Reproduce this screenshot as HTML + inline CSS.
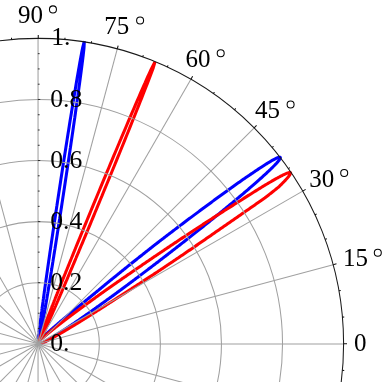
<!DOCTYPE html>
<html><head><meta charset="utf-8"><title>Polar plot</title>
<style>
html,body{margin:0;padding:0;background:#fff;}
body{width:382px;height:382px;overflow:hidden;}
svg{display:block;will-change:transform;}
text{font-family:"Liberation Serif",serif;font-size:25px;fill:#000;white-space:pre;}
</style></head><body>
<svg width="382" height="382" viewBox="0 0 382 382">
<rect width="382" height="382" fill="#fff"/>
<path d="M40.29,343.75 L40.31,343.74 L40.34,343.73 L40.37,343.72 L40.40,343.71 L40.43,343.70 L40.46,343.69 L40.49,343.68 L40.52,343.67 L40.55,343.66 L40.58,343.65 L40.61,343.64 L40.65,343.62 L40.68,343.61 L40.71,343.60 L40.75,343.59 L40.79,343.57 L40.82,343.56 L40.86,343.54 L40.90,343.53 L40.94,343.51 L40.98,343.50 L41.02,343.48 L41.06,343.47 L41.10,343.45 L41.15,343.43 L41.19,343.41 L41.24,343.40 L41.28,343.38 L41.33,343.36 L41.38,343.34 L41.43,343.32 L41.48,343.30 L41.53,343.27 L41.59,343.25 L41.64,343.23 L41.70,343.20 L41.76,343.18 L41.81,343.15 L41.87,343.13 L41.94,343.10 L42.00,343.07 L42.07,343.04 L42.13,343.01 L42.20,342.98 L42.27,342.95 L42.34,342.92 L42.42,342.88 L42.49,342.85 L42.57,342.81 L42.65,342.77 L42.74,342.73 L42.82,342.69 L42.91,342.65 L42.93,342.64 L42.95,342.64 L42.96,342.63 L42.98,342.62 L43.00,342.61 L43.02,342.60 L43.04,342.59 L43.05,342.58 L43.07,342.57 L43.09,342.56 L43.11,342.56 L43.13,342.55 L43.15,342.54 L43.17,342.53 L43.19,342.52 L43.21,342.51 L43.23,342.50 L43.25,342.49 L43.27,342.48 L43.29,342.47 L43.31,342.46 L43.33,342.45 L43.35,342.44 L43.37,342.43 L43.39,342.42 L43.41,342.41 L43.43,342.40 L43.45,342.39 L43.47,342.38 L43.49,342.37 L43.51,342.36 L43.54,342.35 L43.56,342.34 L43.58,342.33 L43.60,342.32 L43.62,342.31 L43.64,342.29 L43.67,342.28 L43.69,342.27 L43.71,342.26 L43.73,342.25 L43.76,342.24 L43.78,342.23 L43.80,342.22 L43.83,342.20 L43.85,342.19 L43.87,342.18 L43.90,342.17 L43.92,342.16 L43.94,342.14 L43.97,342.13 L43.99,342.12 L44.02,342.11 L44.04,342.09 L44.07,342.08 L44.09,342.07 L44.12,342.06 L44.14,342.04 L44.17,342.03 L44.19,342.02 L44.22,342.00 L44.25,341.99 L44.27,341.98 L44.30,341.96 L44.32,341.95 L44.35,341.94 L44.38,341.92 L44.40,341.91 L44.43,341.90 L44.46,341.88 L44.49,341.87 L44.51,341.85 L44.54,341.84 L44.57,341.82 L44.60,341.81 L44.63,341.79 L44.66,341.78 L44.68,341.76 L44.71,341.75 L44.74,341.73 L44.77,341.72 L44.80,341.70 L44.83,341.69 L44.86,341.67 L44.89,341.66 L44.92,341.64 L44.95,341.62 L44.98,341.61 L45.01,341.59 L45.05,341.57 L45.08,341.56 L45.11,341.54 L45.14,341.52 L45.17,341.51 L45.21,341.49 L45.24,341.47 L45.27,341.45 L45.30,341.44 L45.34,341.42 L45.37,341.40 L45.41,341.38 L45.44,341.37 L45.47,341.35 L45.51,341.33 L45.54,341.31 L45.58,341.29 L45.61,341.27 L45.65,341.25 L45.69,341.23 L45.72,341.21 L45.76,341.19 L45.80,341.17 L45.83,341.15 L45.87,341.13 L45.91,341.11 L45.94,341.09 L45.98,341.07 L46.02,341.05 L46.06,341.03 L46.10,341.01 L46.14,340.99 L46.18,340.97 L46.22,340.94 L46.26,340.92 L46.30,340.90 L46.34,340.88 L46.38,340.85 L46.42,340.83 L46.46,340.81 L46.51,340.79 L46.55,340.76 L46.59,340.74 L46.63,340.71 L46.68,340.69 L46.72,340.67 L46.77,340.64 L46.81,340.62 L46.85,340.59 L46.90,340.57 L46.95,340.54 L46.99,340.52 L47.04,340.49 L47.08,340.46 L47.13,340.44 L47.18,340.41 L47.23,340.38 L47.27,340.36 L47.32,340.33 L47.37,340.30 L47.42,340.28 L47.47,340.25 L47.52,340.22 L47.57,340.19 L47.62,340.16 L47.67,340.13 L47.73,340.10 L47.78,340.07 L47.83,340.04 L47.88,340.01 L47.94,339.98 L47.99,339.95 L48.05,339.92 L48.10,339.89 L48.16,339.86 L48.21,339.83 L48.27,339.79 L48.33,339.76 L48.38,339.73 L48.44,339.69 L48.50,339.66 L48.56,339.63 L48.62,339.59 L48.68,339.56 L48.74,339.52 L48.80,339.49 L48.86,339.45 L48.92,339.42 L48.99,339.38 L49.05,339.34 L49.11,339.31 L49.18,339.27 L49.24,339.23 L49.31,339.19 L49.38,339.15 L49.44,339.11 L49.51,339.07 L49.58,339.03 L49.65,338.99 L49.72,338.95 L49.79,338.91 L49.86,338.87 L49.93,338.83 L50.00,338.79 L50.07,338.74 L50.14,338.70 L50.22,338.66 L50.29,338.61 L50.37,338.57 L50.44,338.52 L50.52,338.48 L50.60,338.43 L50.68,338.38 L50.76,338.34 L50.84,338.29 L50.92,338.24 L51.00,338.19 L51.08,338.14 L51.16,338.09 L51.25,338.04 L51.33,337.99 L51.42,337.94 L51.50,337.89 L51.59,337.84 L51.68,337.78 L51.77,337.73 L51.86,337.68 L51.95,337.62 L52.04,337.57 L52.13,337.51 L52.23,337.45 L52.32,337.40 L52.42,337.34 L52.51,337.28 L52.61,337.22 L52.71,337.16 L52.81,337.10 L52.91,337.04 L53.01,336.98 L53.11,336.91 L53.22,336.85 L53.32,336.79 L53.43,336.72 L53.53,336.65 L53.64,336.59 L53.75,336.52 L53.86,336.45 L53.97,336.38 L54.09,336.31 L54.20,336.24 L54.32,336.17 L54.43,336.10 L54.55,336.03 L54.67,335.95 L54.79,335.88 L54.91,335.80 L55.03,335.72 L55.16,335.65 L55.29,335.57 L55.41,335.49 L55.54,335.41 L55.67,335.33 L55.80,335.24 L55.94,335.16 L56.07,335.08 L56.21,334.99 L56.35,334.90 L56.49,334.81 L56.63,334.73 L56.77,334.64 L56.92,334.54 L57.06,334.45 L57.21,334.36 L57.36,334.26 L57.51,334.17 L57.66,334.07 L57.82,333.97 L57.98,333.87 L58.14,333.77 L58.30,333.67 L58.46,333.56 L58.63,333.46 L58.79,333.35 L58.96,333.24 L59.13,333.13 L59.31,333.02 L59.48,332.91 L59.66,332.79 L59.84,332.68 L60.02,332.56 L60.21,332.44 L60.39,332.32 L60.58,332.20 L60.77,332.07 L60.97,331.95 L61.16,331.82 L61.36,331.69 L61.56,331.56 L61.77,331.43 L61.98,331.29 L62.19,331.15 L62.40,331.02 L62.61,330.88 L62.83,330.73 L63.05,330.59 L63.28,330.44 L63.50,330.29 L63.73,330.14 L63.97,329.99 L64.20,329.83 L64.44,329.67 L64.69,329.51 L64.93,329.35 L65.18,329.18 L65.28,329.12 L65.39,329.05 L65.49,328.98 L65.59,328.91 L65.69,328.85 L65.80,328.78 L65.90,328.71 L66.01,328.64 L66.11,328.57 L66.22,328.50 L66.32,328.43 L66.43,328.36 L66.54,328.28 L66.65,328.21 L66.76,328.14 L66.87,328.07 L66.98,327.99 L67.09,327.92 L67.20,327.84 L67.31,327.77 L67.43,327.69 L67.54,327.62 L67.65,327.54 L67.77,327.46 L67.88,327.39 L68.00,327.31 L68.12,327.23 L68.23,327.15 L68.35,327.07 L68.47,326.99 L68.59,326.91 L68.71,326.83 L68.83,326.75 L68.95,326.67 L69.08,326.59 L69.20,326.50 L69.32,326.42 L69.45,326.34 L69.57,326.25 L69.70,326.17 L69.83,326.08 L69.96,326.00 L70.08,325.91 L70.21,325.82 L70.34,325.74 L70.47,325.65 L70.60,325.56 L70.74,325.47 L70.87,325.38 L71.00,325.29 L71.14,325.20 L71.27,325.11 L71.41,325.01 L71.55,324.92 L71.69,324.83 L71.82,324.73 L71.96,324.64 L72.10,324.54 L72.25,324.45 L72.39,324.35 L72.53,324.25 L72.68,324.16 L72.82,324.06 L72.97,323.96 L73.11,323.86 L73.26,323.76 L73.41,323.66 L73.56,323.56 L73.71,323.45 L73.86,323.35 L74.01,323.25 L74.17,323.14 L74.32,323.04 L74.47,322.93 L74.63,322.82 L74.79,322.72 L74.95,322.61 L75.10,322.50 L75.26,322.39 L75.43,322.28 L75.59,322.17 L75.75,322.06 L75.91,321.95 L76.08,321.83 L76.25,321.72 L76.41,321.60 L76.58,321.49 L76.75,321.37 L76.92,321.25 L77.09,321.14 L77.27,321.02 L77.44,320.90 L77.61,320.78 L77.79,320.66 L77.97,320.53 L78.15,320.41 L78.33,320.29 L78.51,320.16 L78.69,320.04 L78.87,319.91 L79.06,319.78 L79.24,319.65 L79.43,319.53 L79.62,319.40 L79.80,319.26 L79.99,319.13 L80.19,319.00 L80.38,318.87 L80.57,318.73 L80.77,318.60 L80.97,318.46 L81.16,318.32 L81.36,318.18 L81.56,318.04 L81.77,317.90 L81.97,317.76 L82.17,317.62 L82.38,317.48 L82.59,317.33 L82.80,317.19 L83.01,317.04 L83.22,316.89 L83.43,316.74 L83.65,316.59 L83.86,316.44 L84.08,316.29 L84.30,316.14 L84.52,315.98 L84.74,315.83 L84.96,315.67 L85.19,315.51 L85.42,315.35 L85.64,315.19 L85.87,315.03 L86.11,314.87 L86.34,314.71 L86.57,314.54 L86.81,314.38 L87.05,314.21 L87.29,314.04 L87.53,313.87 L87.77,313.70 L88.01,313.53 L88.26,313.36 L88.51,313.18 L88.76,313.00 L89.01,312.83 L89.26,312.65 L89.52,312.47 L89.77,312.29 L90.03,312.10 L90.29,311.92 L90.56,311.73 L90.82,311.55 L91.09,311.36 L91.35,311.17 L91.62,310.98 L91.89,310.79 L92.17,310.59 L92.44,310.40 L92.72,310.20 L93.00,310.00 L93.28,309.80 L93.56,309.60 L93.85,309.40 L94.14,309.19 L94.43,308.99 L94.72,308.78 L95.01,308.57 L95.31,308.36 L95.61,308.14 L95.91,307.93 L96.21,307.71 L96.51,307.50 L96.82,307.28 L97.13,307.06 L97.44,306.83 L97.76,306.61 L98.07,306.38 L98.39,306.15 L98.71,305.92 L99.03,305.69 L99.36,305.46 L99.69,305.22 L100.02,304.99 L100.35,304.75 L100.68,304.51 L101.02,304.26 L101.36,304.02 L101.70,303.77 L102.05,303.52 L102.39,303.27 L102.74,303.02 L103.10,302.77 L103.45,302.51 L103.81,302.25 L104.17,301.99 L104.53,301.73 L104.90,301.46 L105.27,301.20 L105.64,300.93 L106.01,300.66 L106.39,300.38 L106.77,300.11 L107.15,299.83 L107.54,299.55 L107.93,299.27 L108.32,298.98 L108.71,298.70 L109.11,298.41 L109.51,298.12 L109.91,297.82 L110.32,297.53 L110.73,297.23 L111.14,296.93 L111.56,296.63 L111.98,296.32 L112.40,296.01 L112.82,295.70 L113.25,295.39 L113.68,295.07 L114.12,294.75 L114.56,294.43 L115.00,294.11 L115.44,293.78 L115.89,293.45 L116.34,293.12 L116.80,292.79 L117.25,292.45 L117.72,292.11 L118.18,291.77 L118.65,291.43 L119.12,291.08 L119.60,290.73 L120.08,290.37 L120.56,290.02 L121.05,289.66 L121.54,289.30 L122.03,288.93 L122.53,288.56 L123.03,288.19 L123.54,287.82 L124.05,287.44 L124.56,287.06 L125.08,286.68 L125.60,286.29 L126.12,285.90 L126.65,285.51 L127.18,285.11 L127.72,284.72 L128.26,284.31 L128.81,283.91 L129.35,283.50 L129.91,283.09 L130.46,282.67 L131.03,282.25 L131.59,281.83 L132.16,281.41 L132.74,280.98 L133.31,280.55 L133.90,280.11 L134.48,279.67 L135.07,279.23 L135.67,278.78 L136.27,278.33 L136.87,277.88 L137.48,277.42 L138.10,276.96 L138.71,276.50 L139.34,276.03 L139.96,275.56 L140.60,275.08 L141.23,274.60 L141.87,274.12 L142.52,273.63 L143.17,273.14 L143.82,272.65 L144.48,272.15 L145.15,271.64 L145.82,271.14 L146.49,270.63 L147.17,270.11 L147.85,269.60 L148.54,269.07 L149.23,268.55 L149.93,268.02 L150.63,267.48 L151.34,266.95 L152.05,266.40 L152.77,265.86 L153.49,265.31 L154.22,264.75 L154.95,264.19 L155.69,263.63 L156.43,263.06 L157.18,262.49 L157.93,261.92 L158.69,261.34 L159.45,260.75 L160.21,260.16 L160.99,259.57 L161.76,258.97 L162.55,258.37 L163.33,257.77 L164.12,257.16 L164.92,256.54 L165.72,255.93 L166.53,255.30 L167.34,254.68 L168.16,254.05 L168.98,253.41 L169.81,252.77 L170.64,252.13 L171.48,251.48 L172.32,250.83 L173.16,250.17 L174.01,249.51 L174.87,248.84 L175.73,248.17 L176.60,247.50 L177.47,246.82 L178.34,246.14 L179.22,245.45 L180.11,244.76 L180.99,244.06 L181.89,243.36 L182.79,242.66 L183.69,241.95 L184.60,241.24 L185.51,240.53 L186.42,239.81 L187.34,239.08 L188.27,238.36 L189.20,237.62 L190.13,236.89 L191.06,236.15 L192.00,235.41 L192.95,234.66 L193.90,233.91 L194.85,233.15 L195.80,232.40 L196.76,231.63 L197.72,230.87 L198.69,230.10 L199.66,229.33 L200.63,228.55 L201.61,227.78 L202.58,226.99 L203.56,226.21 L204.55,225.42 L205.53,224.63 L206.52,223.84 L207.51,223.04 L208.51,222.24 L209.50,221.44 L210.50,220.64 L211.50,219.83 L212.50,219.02 L213.50,218.21 L214.50,217.40 L215.51,216.58 L216.51,215.77 L217.52,214.95 L218.53,214.13 L219.53,213.31 L220.54,212.49 L221.55,211.66 L222.56,210.84 L223.57,210.01 L224.57,209.18 L225.58,208.36 L226.59,207.53 L227.59,206.70 L228.59,205.87 L229.60,205.04 L230.60,204.21 L231.59,203.39 L232.59,202.56 L233.58,201.73 L234.57,200.91 L235.56,200.08 L236.54,199.26 L237.53,198.43 L238.50,197.61 L239.48,196.79 L240.44,195.98 L241.41,195.16 L242.37,194.35 L243.32,193.54 L244.27,192.73 L245.22,191.93 L246.15,191.13 L247.08,190.33 L248.01,189.54 L248.93,188.75 L249.84,187.96 L250.74,187.18 L251.64,186.41 L252.53,185.64 L253.41,184.87 L254.28,184.11 L255.14,183.35 L255.99,182.60 L256.83,181.86 L257.67,181.12 L258.49,180.39 L259.30,179.67 L260.10,178.96 L260.89,178.25 L261.67,177.55 L262.44,176.85 L263.20,176.17 L263.94,175.49 L264.67,174.82 L265.39,174.16 L266.09,173.51 L266.78,172.87 L267.46,172.24 L268.12,171.62 L268.76,171.01 L269.40,170.41 L270.01,169.82 L270.62,169.24 L271.20,168.67 L271.77,168.11 L272.33,167.56 L272.87,167.03 L273.39,166.51 L273.89,166.00 L274.38,165.50 L274.85,165.02 L275.30,164.54 L275.73,164.09 L276.15,163.64 L276.55,163.21 L276.92,162.79 L277.28,162.38 L277.62,161.99 L277.95,161.62 L278.25,161.26 L278.53,160.91 L278.79,160.57 L279.04,160.26 L279.26,159.95 L279.46,159.66 L279.65,159.39 L279.81,159.13 L279.95,158.89 L280.07,158.66 L280.17,158.45 L280.26,158.25 L280.32,158.07 L280.35,157.91 L280.37,157.76 L280.37,157.63 L280.35,157.51 L280.30,157.41 L280.24,157.33 L280.15,157.26 L280.05,157.21 L279.92,157.17 L279.77,157.15 L279.60,157.15 L279.42,157.16 L279.21,157.19 L278.98,157.24 L278.73,157.30 L278.46,157.38 L278.18,157.48 L277.87,157.59 L277.54,157.71 L277.19,157.86 L276.83,158.01 L276.44,158.19 L276.04,158.38 L275.62,158.58 L275.17,158.80 L274.71,159.04 L274.24,159.29 L273.74,159.56 L273.23,159.84 L272.70,160.13 L272.15,160.44 L271.58,160.77 L271.00,161.10 L270.40,161.46 L269.79,161.82 L269.16,162.20 L268.51,162.59 L267.85,163.00 L267.17,163.42 L266.48,163.85 L265.78,164.29 L265.06,164.75 L264.32,165.22 L263.57,165.70 L262.81,166.19 L262.04,166.69 L261.25,167.20 L260.45,167.73 L259.64,168.26 L258.81,168.81 L257.98,169.37 L257.13,169.93 L256.27,170.51 L255.41,171.09 L254.53,171.69 L253.64,172.29 L252.74,172.90 L251.83,173.51 L250.91,174.13 L249.98,174.76 L249.04,175.40 L248.09,176.04 L247.14,176.70 L246.18,177.35 L245.21,178.02 L244.23,178.69 L243.25,179.37 L242.26,180.05 L241.27,180.74 L240.27,181.44 L239.27,182.14 L238.26,182.85 L237.24,183.56 L236.22,184.27 L235.20,184.99 L234.17,185.72 L233.14,186.45 L232.11,187.18 L231.07,187.91 L230.03,188.65 L228.99,189.39 L227.95,190.14 L226.91,190.89 L225.86,191.65 L224.82,192.41 L223.77,193.17 L222.73,193.94 L221.68,194.70 L220.63,195.47 L219.58,196.23 L218.53,197.00 L217.48,197.77 L216.43,198.54 L215.38,199.32 L214.34,200.09 L213.29,200.86 L212.24,201.63 L211.20,202.41 L210.15,203.18 L209.11,203.95 L208.07,204.72 L207.03,205.49 L205.99,206.26 L204.96,207.03 L203.92,207.80 L202.89,208.57 L201.86,209.33 L200.83,210.09 L199.80,210.85 L198.78,211.61 L197.76,212.36 L196.74,213.12 L195.72,213.87 L194.71,214.62 L193.71,215.37 L192.70,216.12 L191.70,216.87 L190.71,217.61 L189.71,218.35 L188.73,219.09 L187.74,219.82 L186.76,220.56 L185.79,221.29 L184.82,222.02 L183.85,222.74 L182.89,223.46 L181.93,224.18 L180.98,224.90 L180.03,225.61 L179.09,226.33 L178.15,227.04 L177.22,227.74 L176.29,228.45 L175.37,229.15 L174.45,229.85 L173.54,230.54 L172.63,231.23 L171.73,231.92 L170.84,232.60 L169.94,233.28 L169.06,233.96 L168.18,234.63 L167.30,235.30 L166.43,235.97 L165.56,236.63 L164.70,237.29 L163.85,237.95 L163.00,238.60 L162.16,239.25 L161.32,239.89 L160.48,240.53 L159.66,241.17 L158.83,241.80 L158.01,242.43 L157.20,243.06 L156.40,243.68 L155.59,244.29 L154.80,244.91 L154.01,245.53 L153.23,246.14 L152.46,246.75 L151.69,247.36 L150.93,247.96 L150.17,248.56 L149.42,249.15 L148.67,249.74 L147.93,250.33 L147.19,250.91 L146.46,251.49 L145.73,252.06 L145.01,252.63 L144.29,253.20 L143.58,253.76 L142.88,254.32 L142.18,254.88 L141.48,255.43 L140.79,255.98 L140.10,256.52 L139.42,257.06 L138.74,257.60 L138.07,258.13 L137.41,258.66 L136.74,259.18 L136.09,259.70 L135.44,260.22 L134.79,260.73 L134.15,261.24 L133.51,261.75 L132.88,262.25 L132.25,262.75 L131.63,263.24 L131.01,263.73 L130.40,264.22 L129.79,264.71 L129.19,265.20 L128.60,265.68 L128.00,266.16 L127.42,266.63 L126.83,267.10 L126.26,267.57 L125.68,268.03 L125.11,268.49 L124.55,268.95 L123.99,269.40 L123.43,269.85 L122.88,270.30 L122.33,270.74 L121.79,271.18 L121.25,271.62 L120.71,272.05 L120.18,272.48 L119.65,272.91 L119.13,273.33 L118.61,273.75 L118.10,274.17 L117.58,274.58 L117.08,274.99 L116.57,275.40 L116.07,275.81 L115.58,276.21 L115.09,276.61 L114.60,277.00 L114.11,277.39 L113.63,277.78 L113.16,278.17 L112.68,278.55 L112.21,278.93 L111.75,279.31 L111.28,279.68 L110.83,280.05 L110.37,280.42 L109.92,280.79 L109.47,281.15 L109.03,281.51 L108.58,281.87 L108.15,282.22 L107.71,282.58 L107.28,282.92 L106.85,283.27 L106.43,283.62 L106.02,283.97 L105.60,284.31 L105.19,284.65 L104.79,284.99 L104.38,285.33 L103.98,285.66 L103.58,285.99 L103.19,286.32 L102.80,286.64 L102.41,286.97 L102.02,287.29 L101.64,287.61 L101.26,287.92 L100.88,288.23 L100.50,288.54 L100.13,288.85 L99.76,289.16 L99.40,289.46 L99.03,289.76 L98.67,290.06 L98.32,290.36 L97.96,290.65 L97.61,290.94 L97.26,291.23 L96.91,291.52 L96.57,291.81 L96.22,292.09 L95.88,292.37 L95.55,292.65 L95.21,292.93 L94.88,293.20 L94.55,293.47 L94.22,293.74 L93.89,294.00 L93.57,294.27 L93.24,294.53 L92.92,294.79 L92.61,295.05 L92.29,295.30 L91.98,295.56 L91.67,295.81 L91.36,296.06 L91.06,296.31 L90.75,296.55 L90.45,296.80 L90.15,297.04 L89.86,297.28 L89.56,297.52 L89.27,297.76 L88.98,298.00 L88.69,298.23 L88.41,298.47 L88.13,298.70 L87.84,298.93 L87.56,299.15 L87.29,299.38 L87.01,299.60 L86.74,299.83 L86.47,300.05 L86.20,300.27 L85.93,300.49 L85.67,300.70 L85.40,300.92 L85.14,301.13 L84.88,301.34 L84.63,301.55 L84.37,301.76 L84.12,301.97 L83.86,302.17 L83.61,302.38 L83.37,302.58 L83.12,302.78 L82.87,302.98 L82.63,303.18 L82.39,303.38 L82.15,303.57 L81.91,303.77 L81.68,303.96 L81.44,304.15 L81.21,304.34 L80.98,304.53 L80.75,304.72 L80.52,304.91 L80.30,305.09 L80.07,305.28 L79.85,305.46 L79.63,305.64 L79.41,305.82 L79.19,306.00 L78.97,306.18 L78.76,306.35 L78.54,306.53 L78.33,306.70 L78.12,306.87 L77.91,307.05 L77.70,307.22 L77.50,307.39 L77.29,307.55 L77.09,307.72 L76.89,307.89 L76.69,308.05 L76.49,308.22 L76.29,308.38 L76.09,308.54 L75.90,308.70 L75.71,308.86 L75.51,309.02 L75.32,309.17 L75.13,309.33 L74.94,309.49 L74.76,309.64 L74.57,309.79 L74.39,309.94 L74.20,310.10 L74.02,310.25 L73.84,310.39 L73.66,310.54 L73.48,310.69 L73.31,310.84 L73.13,310.98 L72.96,311.13 L72.78,311.27 L72.61,311.41 L72.44,311.55 L72.27,311.69 L72.10,311.83 L71.93,311.97 L71.76,312.11 L71.60,312.25 L71.44,312.38 L71.27,312.52 L71.11,312.65 L70.95,312.79 L70.79,312.92 L70.63,313.05 L70.47,313.18 L70.32,313.31 L70.16,313.44 L70.01,313.57 L69.86,313.70 L69.70,313.83 L69.55,313.95 L69.40,314.08 L69.25,314.21 L69.10,314.33 L68.96,314.45 L68.81,314.58 L68.66,314.70 L68.52,314.82 L68.38,314.94 L68.23,315.06 L68.09,315.18 L67.95,315.29 L67.81,315.41 L67.67,315.53 L67.53,315.64 L67.40,315.76 L67.26,315.87 L67.12,315.99 L66.99,316.10 L66.86,316.21 L66.72,316.32 L66.59,316.44 L66.46,316.55 L66.33,316.66 L66.20,316.76 L66.07,316.87 L65.94,316.98 L65.81,317.09 L65.69,317.19 L65.56,317.30 L65.44,317.40 L65.31,317.51 L65.19,317.61 L65.07,317.72 L64.95,317.82 L64.82,317.92 L64.70,318.02 L64.58,318.12 L64.47,318.22 L64.35,318.32 L64.23,318.42 L64.11,318.52 L64.00,318.62 L63.88,318.71 L63.77,318.81 L63.65,318.91 L63.54,319.00 L63.43,319.10 L63.32,319.19 L63.21,319.28 L63.09,319.38 L62.99,319.47 L62.88,319.56 L62.77,319.65 L62.66,319.75 L62.55,319.84 L62.45,319.93 L62.34,320.02 L62.24,320.10 L62.13,320.19 L62.03,320.28 L61.92,320.37 L61.82,320.46 L61.72,320.54 L61.62,320.63 L61.52,320.71 L61.42,320.80 L61.32,320.88 L61.22,320.97 L61.12,321.05 L61.02,321.13 L60.92,321.22 L60.83,321.30 L60.73,321.38 L60.63,321.46 L60.54,321.54 L60.44,321.62 L60.35,321.70 L60.26,321.78 L60.16,321.86 L60.07,321.94 L59.98,322.02 L59.75,322.21 L59.53,322.40 L59.30,322.59 L59.09,322.77 L58.87,322.96 L58.66,323.14 L58.45,323.31 L58.24,323.49 L58.04,323.66 L57.84,323.83 L57.64,324.00 L57.45,324.17 L57.25,324.33 L57.06,324.50 L56.88,324.66 L56.69,324.81 L56.51,324.97 L56.33,325.12 L56.15,325.27 L55.98,325.42 L55.80,325.57 L55.63,325.72 L55.47,325.86 L55.30,326.01 L55.14,326.15 L54.98,326.29 L54.82,326.42 L54.66,326.56 L54.50,326.69 L54.35,326.83 L54.20,326.96 L54.05,327.08 L53.90,327.21 L53.76,327.34 L53.61,327.46 L53.47,327.59 L53.33,327.71 L53.19,327.83 L53.06,327.95 L52.92,328.06 L52.79,328.18 L52.66,328.29 L52.53,328.41 L52.40,328.52 L52.27,328.63 L52.15,328.74 L52.03,328.85 L51.90,328.96 L51.78,329.06 L51.66,329.17 L51.55,329.27 L51.43,329.37 L51.31,329.47 L51.20,329.57 L51.09,329.67 L50.98,329.77 L50.87,329.87 L50.76,329.96 L50.65,330.06 L50.55,330.15 L50.44,330.24 L50.34,330.33 L50.24,330.42 L50.14,330.51 L50.04,330.60 L49.94,330.69 L49.84,330.78 L49.75,330.86 L49.65,330.95 L49.56,331.03 L49.46,331.11 L49.37,331.20 L49.28,331.28 L49.19,331.36 L49.10,331.44 L49.01,331.52 L48.93,331.59 L48.84,331.67 L48.76,331.75 L48.67,331.82 L48.59,331.90 L48.51,331.97 L48.42,332.04 L48.34,332.12 L48.26,332.19 L48.19,332.26 L48.11,332.33 L48.03,332.40 L47.95,332.47 L47.88,332.54 L47.80,332.61 L47.73,332.67 L47.66,332.74 L47.59,332.80 L47.51,332.87 L47.44,332.93 L47.37,333.00 L47.30,333.06 L47.23,333.12 L47.17,333.18 L47.10,333.25 L47.03,333.31 L46.97,333.37 L46.90,333.43 L46.84,333.49 L46.77,333.54 L46.71,333.60 L46.65,333.66 L46.59,333.72 L46.53,333.77 L46.46,333.83 L46.40,333.88 L46.35,333.94 L46.29,333.99 L46.23,334.05 L46.17,334.10 L46.11,334.15 L46.06,334.20 L46.00,334.26 L45.95,334.31 L45.89,334.36 L45.84,334.41 L45.78,334.46 L45.73,334.51 L45.68,334.56 L45.62,334.61 L45.57,334.65 L45.52,334.70 L45.47,334.75 L45.42,334.80 L45.37,334.84 L45.32,334.89 L45.27,334.93 L45.22,334.98 L45.18,335.02 L45.13,335.07 L45.08,335.11 L45.03,335.16 L44.99,335.20 L44.94,335.24 L44.90,335.29 L44.85,335.33 L44.81,335.37 L44.76,335.41 L44.72,335.45 L44.68,335.49 L44.63,335.53 L44.59,335.57 L44.55,335.61 L44.51,335.65 L44.47,335.69 L44.43,335.73 L44.39,335.77 L44.35,335.81 L44.31,335.85 L44.27,335.88 L44.23,335.92 L44.19,335.96 L44.15,335.99 L44.11,336.03 L44.07,336.07 L44.04,336.10 L44.00,336.14 L43.96,336.17 L43.93,336.21 L43.89,336.24" fill="none" stroke="#0000ff" stroke-width="3.05" stroke-linejoin="round"/>
<path d="M43.64,336.06 L43.60,336.09 L43.57,336.13 L43.53,336.16 L43.50,336.20 L43.47,336.23 L43.43,336.26 L43.40,336.30 L43.37,336.33 L43.34,336.36 L43.30,336.40 L43.27,336.43 L43.24,336.46 L43.21,336.49 L43.18,336.53 L43.15,336.56 L43.12,336.59 L43.09,336.62 L43.06,336.65 L43.03,336.68 L43.00,336.71 L42.97,336.74 L42.94,336.77 L42.91,336.80 L42.88,336.83 L42.85,336.86 L42.83,336.89 L42.80,336.92 L42.77,336.95 L42.74,336.97 L42.72,337.00 L42.69,337.03 L42.66,337.06 L42.64,337.08 L42.61,337.11 L42.58,337.14 L42.56,337.17 L42.53,337.19 L42.51,337.22 L42.48,337.24 L42.46,337.27 L42.43,337.30 L42.41,337.32 L42.38,337.35 L42.36,337.37 L42.34,337.40 L42.31,337.42 L42.29,337.45 L42.27,337.47 L42.24,337.49 L42.22,337.52 L42.20,337.54 L42.17,337.57 L42.15,337.59 L42.13,337.61 L42.11,337.64 L42.09,337.66 L42.06,337.68 L42.04,337.70 L42.02,337.73 L42.00,337.75 L41.98,337.77 L41.96,337.79 L41.94,337.81 L41.92,337.84 L41.90,337.86 L41.88,337.88 L41.86,337.90 L41.84,337.92 L41.82,337.94 L41.80,337.96 L41.78,337.98 L41.76,338.00 L41.74,338.02 L41.72,338.04 L41.70,338.06 L41.68,338.08 L41.66,338.10 L41.65,338.12 L41.63,338.14 L41.61,338.16 L41.59,338.18 L41.57,338.20 L41.56,338.21 L41.54,338.23 L41.52,338.25 L41.50,338.27 L41.49,338.29 L41.47,338.31 L41.45,338.32 L41.44,338.34 L41.42,338.36 L41.40,338.38 L41.39,338.39 L41.37,338.41 L41.35,338.43 L41.34,338.44 L41.32,338.46 L41.31,338.48 L41.29,338.49 L41.28,338.51 L41.26,338.53 L41.24,338.54 L41.23,338.56 L41.21,338.57 L41.20,338.59 L41.18,338.60 L41.17,338.62 L41.16,338.64 L41.14,338.65 L41.13,338.67 L41.11,338.68 L41.10,338.70 L41.08,338.71 L41.07,338.72 L41.06,338.74 L41.04,338.75 L41.03,338.77 L41.02,338.78 L41.00,338.80 L40.99,338.81 L40.98,338.82 L40.96,338.84 L40.95,338.85 L40.94,338.86 L40.92,338.88 L40.91,338.89 L40.90,338.90 L40.89,338.92 L40.87,338.93 L40.86,338.94 L40.85,338.95 L40.84,338.97 L40.82,338.98 L40.81,338.99 L40.80,339.00 L40.79,339.02 L40.78,339.03 L40.77,339.04 L40.75,339.05 L40.74,339.06 L40.69,339.12 L40.63,339.17 L40.58,339.23 L40.53,339.27 L40.48,339.32 L40.44,339.36 L40.39,339.41 L40.35,339.45 L40.31,339.48 L40.27,339.52 L40.23,339.55 L40.20,339.58 L40.16,339.60 L40.13,339.63 L40.10,339.65 L40.07,339.67 L40.04,339.68 L40.01,339.70 L39.99,339.71 L39.96,339.72 L39.94,339.72 L39.92,339.72 L39.90,339.72 L39.88,339.71 L39.86,339.71 L39.85,339.69 L39.83,339.68 L39.82,339.66 L39.81,339.63 L39.80,339.60 L39.79,339.56 L39.79,339.52 L39.78,339.48 L39.78,339.42 L39.78,339.37 L39.78,339.30 L39.79,339.22 L39.79,339.14 L39.80,339.05 L39.81,338.94 L39.83,338.83 L39.84,338.70 L39.86,338.56 L39.89,338.40 L39.91,338.22 L39.95,338.02 L39.98,337.80 L40.02,337.56 L40.07,337.29 L40.13,336.98 L40.14,336.91 L40.15,336.85 L40.16,336.78 L40.18,336.71 L40.19,336.63 L40.20,336.56 L40.22,336.48 L40.23,336.41 L40.25,336.33 L40.26,336.25 L40.28,336.16 L40.29,336.08 L40.31,335.99 L40.32,335.90 L40.34,335.81 L40.36,335.71 L40.38,335.61 L40.40,335.51 L40.41,335.41 L40.43,335.31 L40.45,335.20 L40.47,335.09 L40.50,334.97 L40.52,334.86 L40.54,334.74 L40.56,334.61 L40.59,334.49 L40.61,334.36 L40.63,334.22 L40.66,334.08 L40.69,333.94 L40.71,333.80 L40.74,333.65 L40.77,333.49 L40.80,333.33 L40.83,333.17 L40.86,333.00 L40.89,332.83 L40.93,332.65 L40.96,332.46 L40.99,332.27 L41.03,332.08 L41.07,331.87 L41.11,331.67 L41.15,331.45 L41.19,331.23 L41.23,331.00 L41.27,330.76 L41.32,330.52 L41.36,330.26 L41.41,330.00 L41.46,329.73 L41.51,329.45 L41.57,329.16 L41.62,328.86 L41.68,328.55 L41.73,328.22 L41.79,327.89 L41.86,327.54 L41.92,327.18 L41.99,326.81 L42.06,326.42 L42.13,326.02 L42.21,325.61 L42.28,325.17 L42.36,324.72 L42.45,324.25 L42.54,323.76 L42.63,323.25 L42.72,322.72 L42.82,322.17 L42.92,321.59 L43.03,320.99 L43.14,320.36 L43.25,319.71 L43.37,319.02 L43.50,318.31 L43.63,317.56 L43.76,316.77 L43.91,315.95 L44.05,315.09 L44.21,314.19 L44.37,313.24 L44.55,312.25 L44.72,311.20 L44.80,310.77 L44.87,310.33 L44.95,309.87 L45.03,309.41 L45.11,308.94 L45.19,308.46 L45.28,307.97 L45.36,307.47 L45.45,306.96 L45.54,306.44 L45.63,305.91 L45.72,305.37 L45.81,304.81 L45.91,304.24 L46.01,303.66 L46.11,303.07 L46.21,302.46 L46.31,301.84 L46.42,301.21 L46.53,300.56 L46.64,299.90 L46.75,299.22 L46.87,298.53 L46.99,297.82 L47.11,297.09 L47.23,296.35 L47.36,295.59 L47.49,294.81 L47.62,294.01 L47.76,293.20 L47.89,292.36 L48.04,291.51 L48.18,290.63 L48.33,289.74 L48.48,288.82 L48.64,287.88 L48.79,286.91 L48.96,285.92 L49.12,284.91 L49.29,283.87 L49.47,282.81 L49.65,281.71 L49.83,280.60 L50.02,279.45 L50.21,278.27 L50.41,277.06 L50.61,275.82 L50.81,274.55 L51.02,273.25 L51.24,271.91 L51.46,270.53 L51.69,269.12 L51.92,267.67 L52.16,266.19 L52.41,264.66 L52.66,263.09 L52.92,261.48 L53.18,259.83 L53.45,258.13 L53.73,256.39 L54.02,254.60 L54.31,252.76 L54.61,250.87 L54.92,248.93 L55.23,246.94 L55.56,244.89 L55.89,242.78 L56.23,240.62 L56.58,238.40 L56.94,236.12 L57.30,233.78 L57.68,231.38 L58.07,228.91 L58.46,226.37 L58.87,223.77 L59.28,221.10 L59.71,218.35 L60.14,215.54 L60.59,212.65 L61.04,209.69 L61.51,206.66 L61.99,203.55 L62.48,200.36 L62.98,197.09 L63.49,193.75 L64.01,190.33 L64.54,186.83 L65.08,183.25 L65.63,179.60 L66.19,175.87 L66.76,172.07 L67.35,168.19 L67.94,164.24 L68.53,160.22 L69.14,156.13 L69.76,151.98 L70.38,147.78 L71.00,143.52 L71.63,139.21 L72.27,134.86 L72.91,130.47 L73.55,126.05 L74.19,121.62 L74.83,117.17 L75.46,112.72 L76.09,108.28 L76.72,103.86 L77.33,99.47 L77.94,95.13 L78.53,90.85 L79.11,86.65 L79.67,82.53 L80.21,78.52 L80.73,74.63 L81.23,70.87 L81.69,67.27 L82.13,63.84 L82.54,60.59 L82.91,57.55 L83.25,54.73 L83.55,52.13 L83.81,49.79 L84.03,47.70 L84.33,41.18 L82.68,47.52 L82.27,49.57 L81.82,51.89 L81.33,54.46 L80.81,57.26 L80.26,60.28 L79.68,63.50 L79.08,66.91 L78.46,70.49 L77.81,74.22 L77.15,78.10 L76.47,82.09 L75.78,86.19 L75.08,90.38 L74.37,94.65 L73.65,98.97 L72.94,103.35 L72.22,107.75 L71.50,112.18 L70.78,116.62 L70.06,121.06 L69.35,125.49 L68.65,129.90 L67.95,134.28 L67.26,138.63 L66.58,142.93 L65.91,147.19 L65.25,151.39 L64.60,155.53 L63.96,159.62 L63.34,163.64 L62.73,167.59 L62.13,171.46 L61.54,175.27 L60.96,179.00 L60.40,182.65 L59.86,186.23 L59.32,189.73 L58.80,193.16 L58.29,196.50 L57.79,199.77 L57.31,202.96 L56.84,206.08 L56.38,209.12 L55.94,212.08 L55.50,214.97 L55.08,217.79 L54.67,220.54 L54.27,223.22 L53.88,225.82 L53.50,228.37 L53.13,230.84 L52.78,233.25 L52.43,235.60 L52.09,237.88 L51.77,240.11 L51.45,242.28 L51.14,244.39 L50.84,246.44 L50.54,248.44 L50.26,250.39 L49.98,252.28 L49.71,254.13 L49.45,255.93 L49.20,257.68 L48.95,259.38 L48.71,261.04 L48.48,262.66 L48.25,264.23 L48.03,265.76 L47.82,267.26 L47.61,268.71 L47.41,270.13 L47.21,271.51 L47.02,272.85 L46.83,274.17 L46.65,275.44 L46.47,276.69 L46.30,277.90 L46.13,279.09 L45.97,280.24 L45.81,281.37 L45.66,282.47 L45.50,283.54 L45.36,284.58 L45.21,285.60 L45.08,286.60 L44.94,287.57 L44.81,288.52 L44.68,289.44 L44.55,290.34 L44.43,291.23 L44.31,292.09 L44.19,292.93 L44.08,293.75 L43.97,294.55 L43.86,295.33 L43.75,296.10 L43.65,296.85 L43.55,297.58 L43.45,298.30 L43.36,299.00 L43.26,299.68 L43.17,300.35 L43.08,301.00 L43.00,301.64 L42.91,302.27 L42.83,302.88 L42.75,303.48 L42.67,304.06 L42.59,304.64 L42.51,305.20 L42.44,305.75 L42.37,306.29 L42.30,306.81 L42.23,307.33 L42.16,307.83 L42.09,308.33 L42.03,308.81 L41.96,309.29 L41.90,309.75 L41.84,310.21 L41.78,310.66 L41.72,311.10 L41.67,311.53 L41.61,311.95 L41.55,312.36 L41.42,313.36 L41.30,314.31 L41.18,315.22 L41.07,316.08 L40.96,316.91 L40.86,317.70 L40.76,318.45 L40.66,319.17 L40.58,319.86 L40.49,320.52 L40.41,321.16 L40.33,321.76 L40.26,322.35 L40.19,322.91 L40.12,323.44 L40.05,323.96 L39.99,324.45 L39.93,324.93 L39.88,325.39 L39.82,325.83 L39.77,326.25 L39.72,326.66 L39.67,327.06 L39.62,327.44 L39.58,327.80 L39.53,328.16 L39.49,328.50 L39.45,328.83 L39.41,329.15 L39.38,329.46 L39.34,329.75 L39.31,330.04 L39.27,330.32 L39.24,330.59 L39.21,330.85 L39.18,331.11 L39.15,331.35 L39.12,331.59 L39.10,331.82 L39.07,332.04 L39.05,332.26 L39.02,332.47 L39.00,332.67 L38.97,332.87 L38.95,333.06 L38.93,333.25 L38.91,333.43 L38.89,333.61 L38.87,333.78 L38.85,333.95 L38.83,334.11 L38.82,334.27 L38.80,334.42 L38.78,334.57 L38.76,334.72 L38.75,334.86 L38.73,335.00 L38.72,335.13 L38.70,335.26 L38.69,335.39 L38.68,335.51 L38.66,335.64 L38.65,335.76 L38.64,335.87 L38.62,335.98 L38.61,336.09 L38.60,336.20 L38.59,336.31 L38.58,336.41 L38.57,336.51 L38.56,336.61 L38.55,336.71 L38.54,336.80 L38.53,336.89 L38.52,336.98 L38.51,337.07 L38.50,337.15 L38.49,337.24 L38.48,337.32 L38.47,337.40 L38.46,337.48 L38.46,337.56 L38.45,337.63 L38.44,337.70 L38.43,337.78 L38.43,337.85 L38.42,337.92 L38.41,337.98 L38.38,338.30 L38.35,338.59 L38.32,338.86 L38.30,339.10 L38.28,339.32 L38.26,339.52" fill="none" stroke="#0000ff" stroke-width="3.05" stroke-linejoin="bevel"/>
<path d="M40.21,343.75 L40.23,343.74 L40.26,343.73 L40.29,343.72 L40.32,343.71 L40.35,343.70 L40.39,343.69 L40.42,343.68 L40.45,343.67 L40.49,343.66 L40.52,343.65 L40.56,343.64 L40.59,343.63 L40.63,343.61 L40.67,343.60 L40.70,343.59 L40.74,343.58 L40.78,343.56 L40.83,343.55 L40.87,343.53 L40.91,343.52 L40.96,343.50 L41.00,343.48 L41.05,343.47 L41.10,343.45 L41.15,343.43 L41.20,343.41 L41.25,343.39 L41.30,343.37 L41.36,343.35 L41.41,343.33 L41.47,343.31 L41.53,343.29 L41.59,343.27 L41.65,343.24 L41.71,343.22 L41.78,343.19 L41.85,343.16 L41.92,343.14 L41.99,343.11 L42.06,343.08 L42.14,343.05 L42.22,343.01 L42.30,342.98 L42.38,342.95 L42.47,342.91 L42.55,342.87 L42.64,342.83 L42.74,342.79 L42.84,342.75 L42.94,342.71 L42.96,342.70 L42.98,342.69 L43.00,342.68 L43.02,342.67 L43.04,342.66 L43.06,342.66 L43.08,342.65 L43.10,342.64 L43.12,342.63 L43.15,342.62 L43.17,342.61 L43.19,342.60 L43.21,342.59 L43.23,342.58 L43.26,342.57 L43.28,342.56 L43.30,342.55 L43.32,342.54 L43.35,342.53 L43.37,342.52 L43.39,342.51 L43.42,342.50 L43.44,342.49 L43.47,342.48 L43.49,342.47 L43.51,342.45 L43.54,342.44 L43.56,342.43 L43.59,342.42 L43.61,342.41 L43.64,342.40 L43.66,342.39 L43.69,342.38 L43.71,342.37 L43.74,342.35 L43.76,342.34 L43.79,342.33 L43.82,342.32 L43.84,342.31 L43.87,342.29 L43.90,342.28 L43.92,342.27 L43.95,342.26 L43.98,342.24 L44.01,342.23 L44.03,342.22 L44.06,342.21 L44.09,342.19 L44.12,342.18 L44.15,342.17 L44.18,342.15 L44.21,342.14 L44.24,342.13 L44.26,342.11 L44.29,342.10 L44.32,342.09 L44.35,342.07 L44.39,342.06 L44.42,342.04 L44.45,342.03 L44.48,342.01 L44.51,342.00 L44.54,341.98 L44.57,341.97 L44.60,341.95 L44.64,341.94 L44.67,341.92 L44.70,341.91 L44.74,341.89 L44.77,341.88 L44.80,341.86 L44.84,341.85 L44.87,341.83 L44.91,341.81 L44.94,341.80 L44.98,341.78 L45.01,341.76 L45.05,341.75 L45.08,341.73 L45.12,341.71 L45.15,341.69 L45.19,341.68 L45.23,341.66 L45.27,341.64 L45.30,341.62 L45.34,341.60 L45.38,341.59 L45.42,341.57 L45.46,341.55 L45.50,341.53 L45.54,341.51 L45.57,341.49 L45.62,341.47 L45.66,341.45 L45.70,341.43 L45.74,341.41 L45.78,341.39 L45.82,341.37 L45.86,341.35 L45.91,341.33 L45.95,341.31 L45.99,341.29 L46.04,341.27 L46.08,341.25 L46.12,341.22 L46.17,341.20 L46.21,341.18 L46.26,341.16 L46.31,341.13 L46.35,341.11 L46.40,341.09 L46.45,341.07 L46.49,341.04 L46.54,341.02 L46.59,340.99 L46.64,340.97 L46.69,340.94 L46.74,340.92 L46.79,340.89 L46.84,340.87 L46.89,340.84 L46.94,340.82 L46.99,340.79 L47.05,340.77 L47.10,340.74 L47.15,340.71 L47.21,340.68 L47.26,340.66 L47.32,340.63 L47.37,340.60 L47.43,340.57 L47.48,340.54 L47.54,340.52 L47.60,340.49 L47.66,340.46 L47.72,340.43 L47.78,340.40 L47.83,340.37 L47.90,340.34 L47.96,340.30 L48.02,340.27 L48.08,340.24 L48.14,340.21 L48.21,340.18 L48.27,340.14 L48.33,340.11 L48.40,340.08 L48.47,340.04 L48.53,340.01 L48.60,339.97 L48.67,339.94 L48.74,339.90 L48.81,339.87 L48.88,339.83 L48.95,339.79 L49.02,339.76 L49.09,339.72 L49.16,339.68 L49.24,339.64 L49.31,339.60 L49.39,339.56 L49.46,339.52 L49.54,339.48 L49.61,339.44 L49.69,339.40 L49.77,339.36 L49.85,339.32 L49.93,339.28 L50.01,339.23 L50.10,339.19 L50.18,339.15 L50.26,339.10 L50.35,339.06 L50.44,339.01 L50.52,338.96 L50.61,338.92 L50.70,338.87 L50.79,338.82 L50.88,338.77 L50.97,338.72 L51.06,338.67 L51.16,338.62 L51.25,338.57 L51.35,338.52 L51.45,338.47 L51.54,338.42 L51.64,338.36 L51.74,338.31 L51.84,338.25 L51.95,338.20 L52.05,338.14 L52.16,338.08 L52.26,338.03 L52.37,337.97 L52.48,337.91 L52.59,337.85 L52.70,337.79 L52.81,337.73 L52.93,337.67 L53.04,337.60 L53.16,337.54 L53.28,337.47 L53.40,337.41 L53.52,337.34 L53.64,337.27 L53.76,337.21 L53.89,337.14 L54.01,337.07 L54.14,337.00 L54.27,336.92 L54.40,336.85 L54.54,336.78 L54.67,336.70 L54.81,336.63 L54.95,336.55 L55.09,336.47 L55.23,336.39 L55.37,336.31 L55.52,336.23 L55.66,336.15 L55.81,336.06 L55.96,335.98 L56.12,335.89 L56.27,335.81 L56.43,335.72 L56.59,335.63 L56.75,335.54 L56.91,335.44 L57.08,335.35 L57.25,335.26 L57.42,335.16 L57.59,335.06 L57.76,334.96 L57.94,334.86 L58.12,334.76 L58.30,334.66 L58.49,334.55 L58.67,334.44 L58.86,334.34 L59.05,334.23 L59.25,334.11 L59.45,334.00 L59.65,333.89 L59.85,333.77 L60.05,333.65 L60.26,333.53 L60.48,333.41 L60.69,333.28 L60.91,333.16 L61.13,333.03 L61.35,332.90 L61.58,332.76 L61.81,332.63 L62.05,332.49 L62.29,332.35 L62.53,332.21 L62.77,332.07 L63.02,331.92 L63.27,331.78 L63.53,331.63 L63.79,331.47 L64.05,331.32 L64.32,331.16 L64.60,331.00 L64.87,330.83 L65.15,330.67 L65.44,330.50 L65.73,330.33 L65.85,330.26 L65.96,330.19 L66.08,330.12 L66.20,330.05 L66.32,329.97 L66.44,329.90 L66.57,329.83 L66.69,329.76 L66.81,329.68 L66.94,329.61 L67.06,329.54 L67.19,329.46 L67.31,329.38 L67.44,329.31 L67.57,329.23 L67.70,329.16 L67.83,329.08 L67.96,329.00 L68.09,328.92 L68.22,328.84 L68.36,328.76 L68.49,328.68 L68.63,328.60 L68.76,328.52 L68.90,328.44 L69.04,328.35 L69.17,328.27 L69.31,328.19 L69.45,328.10 L69.60,328.02 L69.74,327.93 L69.88,327.84 L70.03,327.76 L70.17,327.67 L70.32,327.58 L70.46,327.49 L70.61,327.40 L70.76,327.31 L70.91,327.22 L71.06,327.13 L71.22,327.04 L71.37,326.95 L71.52,326.85 L71.68,326.76 L71.83,326.66 L71.99,326.57 L72.15,326.47 L72.31,326.38 L72.47,326.28 L72.63,326.18 L72.80,326.08 L72.96,325.98 L73.12,325.88 L73.29,325.78 L73.46,325.68 L73.63,325.57 L73.80,325.47 L73.97,325.37 L74.14,325.26 L74.31,325.15 L74.49,325.05 L74.66,324.94 L74.84,324.83 L75.02,324.72 L75.20,324.61 L75.38,324.50 L75.56,324.39 L75.75,324.28 L75.93,324.16 L76.12,324.05 L76.30,323.93 L76.49,323.82 L76.68,323.70 L76.88,323.58 L77.07,323.46 L77.26,323.34 L77.46,323.22 L77.66,323.10 L77.85,322.98 L78.05,322.86 L78.26,322.73 L78.46,322.61 L78.66,322.48 L78.87,322.35 L79.08,322.22 L79.29,322.10 L79.50,321.97 L79.71,321.83 L79.92,321.70 L80.14,321.57 L80.36,321.44 L80.57,321.30 L80.79,321.16 L81.02,321.03 L81.24,320.89 L81.47,320.75 L81.69,320.61 L81.92,320.47 L82.15,320.32 L82.38,320.18 L82.62,320.03 L82.85,319.89 L83.09,319.74 L83.33,319.59 L83.57,319.44 L83.82,319.29 L84.06,319.14 L84.31,318.99 L84.56,318.83 L84.81,318.67 L85.06,318.52 L85.31,318.36 L85.57,318.20 L85.83,318.04 L86.09,317.87 L86.35,317.71 L86.62,317.54 L86.88,317.38 L87.15,317.21 L87.42,317.04 L87.69,316.87 L87.97,316.70 L88.25,316.52 L88.53,316.35 L88.81,316.17 L89.09,315.99 L89.38,315.81 L89.66,315.63 L89.96,315.45 L90.25,315.26 L90.54,315.08 L90.84,314.89 L91.14,314.70 L91.44,314.51 L91.75,314.32 L92.05,314.13 L92.36,313.93 L92.68,313.73 L92.99,313.53 L93.31,313.33 L93.63,313.13 L93.95,312.93 L94.28,312.72 L94.60,312.51 L94.93,312.30 L95.27,312.09 L95.60,311.88 L95.94,311.66 L96.28,311.45 L96.63,311.23 L96.97,311.01 L97.32,310.78 L97.67,310.56 L98.03,310.33 L98.39,310.11 L98.75,309.87 L99.11,309.64 L99.48,309.41 L99.85,309.17 L100.22,308.93 L100.60,308.69 L100.98,308.45 L101.36,308.20 L101.75,307.96 L102.14,307.71 L102.53,307.45 L102.93,307.20 L103.33,306.94 L103.73,306.69 L104.13,306.42 L104.54,306.16 L104.96,305.90 L105.37,305.63 L105.79,305.36 L106.22,305.08 L106.64,304.81 L107.07,304.53 L107.51,304.25 L107.94,303.97 L108.39,303.68 L108.83,303.40 L109.28,303.10 L109.73,302.81 L110.19,302.52 L110.65,302.22 L111.11,301.92 L111.58,301.61 L112.06,301.30 L112.53,301.00 L113.01,300.68 L113.50,300.37 L113.99,300.05 L114.48,299.73 L114.98,299.40 L115.48,299.08 L115.98,298.75 L116.49,298.41 L117.01,298.08 L117.53,297.74 L118.05,297.40 L118.58,297.06 L119.12,296.72 L119.66,296.37 L120.20,296.02 L120.75,295.67 L121.31,295.31 L121.87,294.95 L122.43,294.59 L123.00,294.22 L123.57,293.86 L124.15,293.48 L124.73,293.11 L125.32,292.73 L125.92,292.35 L126.51,291.96 L127.12,291.57 L127.73,291.18 L128.34,290.78 L128.96,290.38 L129.59,289.98 L130.22,289.57 L130.85,289.16 L131.49,288.74 L132.14,288.32 L132.79,287.90 L133.45,287.48 L134.12,287.05 L134.79,286.61 L135.46,286.18 L136.14,285.73 L136.83,285.29 L137.52,284.84 L138.22,284.39 L138.92,283.93 L139.63,283.47 L140.35,283.00 L141.07,282.53 L141.80,282.06 L142.54,281.58 L143.28,281.10 L144.03,280.61 L144.78,280.12 L145.54,279.63 L146.30,279.13 L147.08,278.63 L147.86,278.12 L148.64,277.61 L149.43,277.09 L150.23,276.57 L151.04,276.05 L151.85,275.52 L152.67,274.98 L153.49,274.44 L154.32,273.90 L155.16,273.35 L156.00,272.80 L156.85,272.24 L157.70,271.67 L158.56,271.09 L159.43,270.51 L160.30,269.93 L161.18,269.34 L162.07,268.75 L162.96,268.15 L163.86,267.55 L164.77,266.94 L165.68,266.32 L166.60,265.71 L167.53,265.08 L168.46,264.45 L169.40,263.82 L170.35,263.18 L171.30,262.54 L172.26,261.89 L173.23,261.24 L174.21,260.58 L175.19,259.92 L176.17,259.25 L177.17,258.58 L178.17,257.90 L179.17,257.22 L180.19,256.53 L181.21,255.84 L182.23,255.14 L183.27,254.44 L184.31,253.73 L185.35,253.02 L186.40,252.30 L187.46,251.58 L188.53,250.85 L189.60,250.12 L190.67,249.38 L191.75,248.64 L192.84,247.90 L193.93,247.15 L195.03,246.39 L196.14,245.63 L197.25,244.87 L198.36,244.10 L199.48,243.33 L200.61,242.55 L201.74,241.77 L202.88,240.99 L204.02,240.20 L205.16,239.41 L206.31,238.61 L207.46,237.81 L208.62,237.01 L209.78,236.20 L210.95,235.39 L212.12,234.57 L213.29,233.76 L214.47,232.94 L215.65,232.11 L216.83,231.29 L218.01,230.46 L219.20,229.63 L220.39,228.80 L221.59,227.98 L222.79,227.15 L223.99,226.33 L225.20,225.50 L226.40,224.66 L227.61,223.83 L228.81,223.00 L230.02,222.16 L231.22,221.33 L232.43,220.49 L233.63,219.65 L234.83,218.82 L236.04,217.98 L237.24,217.14 L238.43,216.30 L239.63,215.47 L240.82,214.63 L242.01,213.80 L243.20,212.96 L244.38,212.13 L245.57,211.32 L246.75,210.51 L247.93,209.70 L249.10,208.89 L250.27,208.08 L251.43,207.28 L252.58,206.48 L253.73,205.69 L254.87,204.90 L256.00,204.11 L257.13,203.33 L258.24,202.55 L259.34,201.77 L260.44,201.01 L261.52,200.25 L262.60,199.49 L263.66,198.74 L264.70,197.98 L265.71,197.20 L266.71,196.43 L267.70,195.67 L268.67,194.92 L269.63,194.17 L270.58,193.43 L271.50,192.71 L272.42,191.99 L273.32,191.28 L274.20,190.58 L275.06,189.89 L275.91,189.21 L276.74,188.54 L277.55,187.88 L278.34,187.24 L279.09,186.57 L279.80,185.88 L280.49,185.20 L281.16,184.54 L281.81,183.90 L282.44,183.26 L283.05,182.65 L283.64,182.05 L284.21,181.46 L284.75,180.89 L285.27,180.34 L285.77,179.81 L286.25,179.29 L286.71,178.79 L287.14,178.31 L287.54,177.84 L287.91,177.38 L288.26,176.94 L288.59,176.51 L288.89,176.11 L289.17,175.73 L289.42,175.37 L289.65,175.03 L289.85,174.71 L290.03,174.41 L290.19,174.14 L290.31,173.88 L290.42,173.65 L290.50,173.44 L290.55,173.25 L290.58,173.09 L290.59,172.94 L290.56,172.82 L290.47,172.66 L290.40,172.58 L290.30,172.52 L290.17,172.48 L290.02,172.46 L289.83,172.45 L289.62,172.47 L289.38,172.50 L289.12,172.56 L288.82,172.63 L288.51,172.72 L288.16,172.83 L287.79,172.95 L287.39,173.10 L286.97,173.26 L286.52,173.44 L286.04,173.64 L285.54,173.86 L285.01,174.09 L284.46,174.34 L283.89,174.61 L283.29,174.90 L282.67,175.20 L282.03,175.52 L281.36,175.86 L280.68,176.22 L279.97,176.59 L279.24,176.98 L278.50,177.39 L277.73,177.81 L276.94,178.25 L276.13,178.70 L275.30,179.17 L274.45,179.65 L273.58,180.14 L272.70,180.65 L271.80,181.17 L270.88,181.70 L269.94,182.25 L268.99,182.81 L268.03,183.38 L267.04,183.96 L266.05,184.56 L265.03,185.16 L264.01,185.78 L262.97,186.41 L261.92,187.05 L260.86,187.70 L259.79,188.36 L258.71,189.03 L257.61,189.71 L256.51,190.39 L255.39,191.09 L254.27,191.79 L253.13,192.50 L251.99,193.22 L250.84,193.94 L249.68,194.67 L248.52,195.41 L247.35,196.15 L246.17,196.90 L244.98,197.65 L243.79,198.41 L242.60,199.17 L241.40,199.94 L240.19,200.71 L238.99,201.49 L237.77,202.26 L236.55,203.03 L235.32,203.80 L234.09,204.57 L232.85,205.35 L231.61,206.12 L230.38,206.90 L229.14,207.68 L227.90,208.46 L226.66,209.24 L225.42,210.03 L224.18,210.81 L222.94,211.60 L221.70,212.39 L220.47,213.18 L219.23,213.96 L218.00,214.75 L216.77,215.54 L215.54,216.33 L214.31,217.11 L213.09,217.90 L211.86,218.68 L210.65,219.47 L209.43,220.25 L208.22,221.03 L207.01,221.81 L205.81,222.59 L204.61,223.37 L203.42,224.15 L202.23,224.92 L201.04,225.69 L199.86,226.46 L198.68,227.23 L197.51,227.99 L196.35,228.75 L195.19,229.51 L194.03,230.27 L192.88,231.02 L191.74,231.77 L190.60,232.52 L189.47,233.26 L188.35,234.00 L187.23,234.74 L186.11,235.47 L185.01,236.20 L183.91,236.93 L182.81,237.65 L181.73,238.37 L180.65,239.09 L179.57,239.80 L178.51,240.51 L177.45,241.21 L176.39,241.91 L175.35,242.61 L174.31,243.30 L173.28,243.99 L172.25,244.67 L171.23,245.35 L170.22,246.03 L169.22,246.70 L168.22,247.37 L167.23,248.03 L166.25,248.69 L165.27,249.34 L164.30,249.99 L163.34,250.64 L162.39,251.28 L161.44,251.92 L160.50,252.55 L159.57,253.18 L158.64,253.81 L157.72,254.43 L156.81,255.04 L155.91,255.65 L155.01,256.26 L154.12,256.86 L153.24,257.46 L152.36,258.06 L151.49,258.65 L150.63,259.23 L149.78,259.81 L148.93,260.39 L148.09,260.96 L147.25,261.53 L146.43,262.09 L145.61,262.65 L144.79,263.21 L143.99,263.76 L143.19,264.31 L142.40,264.85 L141.61,265.39 L140.83,265.92 L140.06,266.45 L139.29,266.98 L138.53,267.50 L137.78,268.02 L137.03,268.53 L136.29,269.04 L135.55,269.54 L134.82,270.04 L134.10,270.54 L133.38,271.03 L132.67,271.52 L131.97,272.00 L131.27,272.48 L130.58,272.96 L129.89,273.43 L129.21,273.90 L128.54,274.36 L127.87,274.82 L127.21,275.28 L126.55,275.73 L125.90,276.18 L125.26,276.63 L124.62,277.07 L123.99,277.51 L123.36,277.94 L122.74,278.37 L122.12,278.80 L121.51,279.23 L120.90,279.65 L120.30,280.06 L119.71,280.48 L119.12,280.89 L118.53,281.29 L117.95,281.70 L117.38,282.10 L116.81,282.50 L116.24,282.89 L115.69,283.28 L115.13,283.67 L114.58,284.05 L114.04,284.43 L113.50,284.81 L112.96,285.18 L112.43,285.56 L111.91,285.92 L111.39,286.29 L110.87,286.65 L110.36,287.01 L109.86,287.37 L109.35,287.72 L108.86,288.07 L108.36,288.42 L107.87,288.76 L107.39,289.10 L106.91,289.44 L106.43,289.78 L105.96,290.11 L105.49,290.44 L105.03,290.77 L104.57,291.10 L104.11,291.42 L103.66,291.74 L103.22,292.06 L102.77,292.37 L102.33,292.68 L101.90,292.99 L101.47,293.30 L101.04,293.60 L100.61,293.90 L100.19,294.20 L99.78,294.50 L99.36,294.79 L98.95,295.09 L98.55,295.38 L98.14,295.66 L97.75,295.95 L97.35,296.23 L96.96,296.51 L96.57,296.79 L96.19,297.07 L95.81,297.34 L95.43,297.62 L95.05,297.89 L94.68,298.15 L94.31,298.42 L93.95,298.68 L93.59,298.94 L93.23,299.20 L92.87,299.46 L92.52,299.72 L92.17,299.97 L91.82,300.22 L91.48,300.47 L91.14,300.72 L90.80,300.96 L90.47,301.20 L90.13,301.44 L89.80,301.68 L89.48,301.92 L89.15,302.16 L88.83,302.39 L88.51,302.62 L88.20,302.85 L87.88,303.08 L87.57,303.30 L87.27,303.53 L86.96,303.75 L86.66,303.97 L86.36,304.19 L86.06,304.41 L85.76,304.62 L85.47,304.84 L85.18,305.05 L84.89,305.26 L84.61,305.47 L84.32,305.68 L84.04,305.88 L83.76,306.09 L83.49,306.29 L83.21,306.49 L82.94,306.69 L82.67,306.89 L82.40,307.08 L82.14,307.28 L81.87,307.47 L81.61,307.66 L81.35,307.85 L81.10,308.04 L80.84,308.23 L80.59,308.42 L80.34,308.60 L80.09,308.78 L79.84,308.97 L79.60,309.15 L79.36,309.32 L79.12,309.50 L78.88,309.68 L78.64,309.85 L78.40,310.03 L78.17,310.20 L77.94,310.37 L77.71,310.54 L77.48,310.71 L77.26,310.88 L77.03,311.04 L76.81,311.21 L76.59,311.37 L76.37,311.53 L76.15,311.69 L75.94,311.85 L75.72,312.01 L75.51,312.17 L75.30,312.33 L75.09,312.48 L74.88,312.64 L74.68,312.79 L74.47,312.94 L74.27,313.09 L74.07,313.24 L73.87,313.39 L73.67,313.54 L73.48,313.69 L73.28,313.83 L73.09,313.98 L72.89,314.12 L72.70,314.26 L72.51,314.40 L72.33,314.54 L72.14,314.68 L71.96,314.82 L71.77,314.96 L71.59,315.10 L71.41,315.23 L71.23,315.37 L71.05,315.50 L70.88,315.63 L70.70,315.76 L70.53,315.90 L70.35,316.03 L70.18,316.15 L70.01,316.28 L69.84,316.41 L69.67,316.54 L69.51,316.66 L69.34,316.79 L69.18,316.91 L69.02,317.03 L68.85,317.15 L68.69,317.28 L68.53,317.40 L68.38,317.52 L68.22,317.63 L68.06,317.75 L67.91,317.87 L67.75,317.99 L67.60,318.10 L67.45,318.22 L67.30,318.33 L67.15,318.44 L67.00,318.56 L66.85,318.67 L66.71,318.78 L66.56,318.89 L66.42,319.00 L66.28,319.11 L66.13,319.21 L65.99,319.32 L65.85,319.43 L65.71,319.53 L65.57,319.64 L65.44,319.74 L65.30,319.85 L65.17,319.95 L65.03,320.05 L64.90,320.16 L64.77,320.26 L64.63,320.36 L64.50,320.46 L64.37,320.56 L64.24,320.65 L64.12,320.75 L63.99,320.85 L63.86,320.95 L63.74,321.04 L63.61,321.14 L63.49,321.23 L63.37,321.33 L63.25,321.42 L63.12,321.51 L63.00,321.60 L62.88,321.70 L62.77,321.79 L62.65,321.88 L62.53,321.97 L62.41,322.06 L62.30,322.15 L62.18,322.23 L62.07,322.32 L61.96,322.41 L61.84,322.49 L61.73,322.58 L61.62,322.67 L61.51,322.75 L61.40,322.84 L61.29,322.92 L61.18,323.00 L61.08,323.09 L60.81,323.29 L60.55,323.49 L60.29,323.69 L60.04,323.89 L59.79,324.08 L59.55,324.27 L59.30,324.46 L59.07,324.64 L58.83,324.82 L58.60,325.00 L58.38,325.18 L58.16,325.35 L57.94,325.52 L57.72,325.69 L57.51,325.86 L57.30,326.02 L57.09,326.18 L56.89,326.34 L56.69,326.50 L56.49,326.65 L56.30,326.80 L56.11,326.95 L55.92,327.10 L55.73,327.25 L55.55,327.39 L55.37,327.53 L55.20,327.67 L55.02,327.81 L54.85,327.95 L54.68,328.08 L54.51,328.22 L54.35,328.35 L54.18,328.48 L54.02,328.60 L53.87,328.73 L53.71,328.85 L53.56,328.97 L53.41,329.10 L53.26,329.21 L53.11,329.33 L52.96,329.45 L52.82,329.56 L52.68,329.67 L52.54,329.79 L52.40,329.90 L52.27,330.00 L52.14,330.11 L52.00,330.22 L51.87,330.32 L51.75,330.43 L51.62,330.53 L51.49,330.63 L51.37,330.73 L51.25,330.83 L51.13,330.92 L51.01,331.02 L50.90,331.11 L50.78,331.21 L50.67,331.30 L50.55,331.39 L50.44,331.48 L50.33,331.57 L50.23,331.66 L50.12,331.74 L50.01,331.83 L49.91,331.91 L49.81,332.00 L49.71,332.08 L49.61,332.16 L49.51,332.24 L49.41,332.32 L49.31,332.40 L49.22,332.48 L49.13,332.56 L49.03,332.63 L48.94,332.71 L48.85,332.78 L48.76,332.86 L48.67,332.93 L48.59,333.00 L48.50,333.07 L48.41,333.14 L48.33,333.21 L48.25,333.28 L48.17,333.35 L48.08,333.41 L48.00,333.48 L47.93,333.55 L47.85,333.61 L47.77,333.67 L47.69,333.74 L47.62,333.80 L47.54,333.86 L47.47,333.92 L47.40,333.99 L47.32,334.05 L47.25,334.10 L47.18,334.16 L47.11,334.22 L47.04,334.28 L46.98,334.34 L46.91,334.39 L46.84,334.45 L46.78,334.50 L46.71,334.56 L46.65,334.61 L46.58,334.66 L46.52,334.72 L46.46,334.77 L46.40,334.82 L46.34,334.87 L46.28,334.92 L46.22,334.97 L46.16,335.02 L46.10,335.07 L46.04,335.12 L45.99,335.17 L45.93,335.21 L45.88,335.26 L45.82,335.31 L45.77,335.35 L45.71,335.40 L45.66,335.44 L45.61,335.49 L45.56,335.53 L45.50,335.57 L45.45,335.62 L45.40,335.66 L45.35,335.70 L45.30,335.74 L45.25,335.79 L45.21,335.83 L45.16,335.87 L45.11,335.91 L45.07,335.95 L45.02,335.99 L44.97,336.02 L44.93,336.06 L44.88,336.10 L44.84,336.14 L44.80,336.18 L44.75,336.21 L44.71,336.25 L44.67,336.29 L44.62,336.32 L44.58,336.36 L44.54,336.39 L44.50,336.43 L44.46,336.46 L44.42,336.49 L44.38,336.53 L44.34,336.56 L44.30,336.59 L44.27,336.63 L44.23,336.66 L44.19,336.69 L44.15,336.72 L44.12,336.75 L44.08,336.79 L44.04,336.82 L44.01,336.85 L43.97,336.88 L43.94,336.91 L43.90,336.94 L43.87,336.96 L43.84,336.99 L43.80,337.02 L43.77,337.05 L43.74,337.08 L43.71,337.11 L43.67,337.13 L43.64,337.16 L43.61,337.19 L43.58,337.21 L43.55,337.24 L43.52,337.26 L43.49,337.29 L43.46,337.32 L43.43,337.34 L43.40,337.37 L43.37,337.39 L43.34,337.41 L43.31,337.44 L43.29,337.46 L43.26,337.49 L43.23,337.51 L43.20,337.53 L43.18,337.55 L43.15,337.58 L43.12,337.60 L43.10,337.62 L43.07,337.64 L43.05,337.66 L43.02,337.69 L43.00,337.71 L42.97,337.73 L42.95,337.75 L42.92,337.77 L42.90,337.79 L42.87,337.81 L42.85,337.83 L42.83,337.85 L42.80,337.87 L42.78,337.88 L42.76,337.90 L42.74,337.92 L42.71,337.94 L42.69,337.96 L42.67,337.97 L42.65,337.99 L42.63,338.01 L42.61,338.03 L42.59,338.04 L42.57,338.06 L42.55,338.08 L42.53,338.09 L42.51,338.11 L42.49,338.12 L42.47,338.14 L42.45,338.15 L42.43,338.17 L42.41,338.18 L42.39,338.20 L42.37,338.21 L42.36,338.23 L42.34,338.24 L42.32,338.26 L42.30,338.27 L42.29,338.28 L42.27,338.30 L42.25,338.31 L42.24,338.32 L42.22,338.33 L42.20,338.35 L42.19,338.36 L42.17,338.37 L42.16,338.38 L42.14,338.39 L42.13,338.40 L42.11,338.41 L42.10,338.43 L42.08,338.44 L42.07,338.45 L42.05,338.46 L42.04,338.47 L42.02,338.48 L42.01,338.49 L42.00,338.49 L41.98,338.50 L41.97,338.51 L41.96,338.52 L41.94,338.53 L41.93,338.54 L41.92,338.55 L41.91,338.55 L41.90,338.56 L41.88,338.57 L41.87,338.58" fill="none" stroke="#ff0000" stroke-width="3.05" stroke-linejoin="round"/>
<path d="M41.87,338.58 L41.86,338.58 L41.85,338.59 L41.84,338.60 L41.83,338.60 L41.82,338.61 L41.81,338.61 L41.80,338.62 L41.79,338.62 L41.78,338.63 L41.77,338.63 L41.76,338.64 L41.75,338.64 L41.74,338.65 L41.69,338.66 L41.65,338.67 L41.62,338.68 L41.59,338.68 L41.56,338.67 L41.54,338.65 L41.53,338.62 L41.52,338.59 L41.51,338.55 L41.52,338.49 L41.52,338.43 L41.54,338.35 L41.56,338.27 L41.59,338.16 L41.62,338.04 L41.67,337.91 L41.73,337.75 L41.79,337.57 L41.87,337.37 L41.97,337.14 L42.08,336.87 L42.10,336.82 L42.13,336.76 L42.15,336.70 L42.18,336.63 L42.21,336.57 L42.23,336.50 L42.26,336.44 L42.29,336.37 L42.32,336.30 L42.35,336.22 L42.39,336.15 L42.42,336.07 L42.45,335.99 L42.49,335.91 L42.52,335.83 L42.56,335.74 L42.60,335.65 L42.64,335.56 L42.68,335.47 L42.72,335.37 L42.77,335.27 L42.81,335.17 L42.86,335.06 L42.91,334.96 L42.95,334.85 L43.01,334.73 L43.06,334.61 L43.11,334.49 L43.17,334.36 L43.22,334.24 L43.28,334.10 L43.34,333.96 L43.41,333.82 L43.47,333.68 L43.54,333.52 L43.61,333.37 L43.68,333.21 L43.75,333.04 L43.83,332.87 L43.91,332.69 L43.99,332.51 L44.07,332.32 L44.16,332.13 L44.25,331.92 L44.34,331.71 L44.44,331.50 L44.54,331.27 L44.64,331.04 L44.75,330.80 L44.86,330.55 L44.97,330.29 L45.09,330.02 L45.22,329.75 L45.34,329.46 L45.48,329.16 L45.62,328.85 L45.76,328.53 L45.91,328.19 L46.06,327.84 L46.22,327.48 L46.39,327.10 L46.56,326.71 L46.74,326.30 L46.93,325.87 L47.13,325.43 L47.33,324.96 L47.54,324.48 L47.77,323.98 L48.00,323.45 L48.24,322.90 L48.49,322.32 L48.76,321.72 L49.04,321.08 L49.33,320.42 L49.63,319.73 L49.95,319.00 L50.28,318.24 L50.63,317.44 L51.00,316.59 L51.39,315.71 L51.79,314.78 L52.22,313.79 L52.40,313.39 L52.58,312.97 L52.76,312.55 L52.95,312.11 L53.14,311.67 L53.34,311.22 L53.54,310.75 L53.74,310.28 L53.95,309.80 L54.17,309.30 L54.39,308.80 L54.61,308.28 L54.84,307.75 L55.07,307.21 L55.31,306.66 L55.56,306.09 L55.81,305.51 L56.06,304.92 L56.32,304.31 L56.59,303.69 L56.86,303.06 L57.14,302.40 L57.43,301.74 L57.73,301.06 L58.03,300.36 L58.33,299.64 L58.65,298.91 L58.97,298.15 L59.30,297.38 L59.64,296.59 L59.99,295.78 L60.34,294.95 L60.71,294.10 L61.08,293.23 L61.47,292.33 L61.86,291.41 L62.26,290.47 L62.68,289.50 L63.10,288.51 L63.54,287.49 L63.98,286.44 L64.44,285.37 L64.91,284.26 L65.39,283.13 L65.89,281.97 L66.39,280.77 L66.92,279.54 L67.45,278.28 L68.00,276.99 L68.57,275.65 L69.15,274.29 L69.75,272.88 L70.36,271.43 L70.99,269.94 L71.63,268.41 L72.30,266.84 L72.98,265.22 L73.68,263.56 L74.41,261.85 L75.15,260.09 L75.91,258.28 L76.69,256.42 L77.50,254.51 L78.33,252.54 L79.18,250.51 L80.05,248.43 L80.95,246.28 L81.88,244.08 L82.83,241.81 L83.80,239.48 L84.81,237.08 L85.84,234.62 L86.90,232.08 L87.98,229.48 L89.10,226.80 L90.25,224.05 L91.42,221.23 L92.63,218.33 L93.87,215.35 L95.14,212.29 L96.44,209.16 L97.77,205.94 L99.13,202.65 L100.53,199.28 L101.96,195.83 L103.42,192.29 L104.90,188.68 L106.42,184.99 L107.97,181.23 L109.55,177.39 L111.16,173.48 L112.79,169.50 L114.44,165.46 L116.12,161.36 L117.82,157.20 L119.54,152.99 L121.27,148.74 L123.01,144.45 L124.76,140.13 L126.52,135.80 L128.28,131.45 L130.03,127.11 L131.77,122.78 L133.50,118.47 L135.21,114.21 L136.89,110.00 L138.54,105.86 L140.16,101.80 L141.72,97.84 L143.23,94.00 L144.69,90.30 L146.07,86.75 L147.38,83.37 L148.61,80.18 L149.75,77.20 L150.80,74.43 L151.74,71.91 L152.58,69.64 L153.30,67.63 L155.04,61.80 L151.22,69.11 L150.21,71.31 L149.09,73.77 L147.87,76.47 L146.56,79.39 L145.18,82.52 L143.71,85.84 L142.18,89.33 L140.59,92.98 L138.94,96.77 L137.25,100.68 L135.52,104.69 L133.75,108.79 L131.96,112.96 L130.15,117.19 L128.33,121.46 L126.50,125.76 L124.67,130.08 L122.83,134.40 L121.01,138.71 L119.19,143.00 L117.39,147.27 L115.61,151.51 L113.84,155.70 L112.10,159.85 L110.39,163.94 L108.70,167.98 L107.04,171.95 L105.41,175.85 L103.81,179.68 L102.24,183.45 L100.70,187.13 L99.20,190.74 L97.73,194.28 L96.30,197.73 L94.90,201.11 L93.53,204.41 L92.20,207.63 L90.90,210.77 L89.64,213.83 L88.41,216.81 L87.21,219.72 L86.04,222.56 L84.90,225.32 L83.80,228.00 L82.72,230.62 L81.68,233.16 L80.66,235.64 L79.67,238.05 L78.71,240.39 L77.78,242.67 L76.87,244.89 L75.99,247.04 L75.14,249.14 L74.31,251.18 L73.50,253.16 L72.71,255.09 L71.95,256.96 L71.21,258.79 L70.48,260.56 L69.78,262.28 L69.10,263.96 L68.44,265.59 L67.80,267.18 L67.17,268.72 L66.56,270.22 L65.97,271.68 L65.40,273.11 L64.84,274.49 L64.29,275.83 L63.76,277.15 L63.25,278.42 L62.75,279.66 L62.26,280.87 L61.79,282.05 L61.33,283.20 L60.88,284.31 L60.44,285.40 L60.01,286.46 L59.60,287.49 L59.19,288.50 L58.80,289.48 L58.42,290.44 L58.04,291.37 L57.68,292.28 L57.32,293.16 L56.98,294.03 L56.64,294.87 L56.31,295.70 L55.99,296.50 L55.68,297.28 L55.37,298.05 L55.08,298.79 L54.79,299.52 L54.50,300.23 L54.23,300.93 L53.96,301.61 L53.69,302.27 L53.44,302.92 L53.18,303.55 L52.94,304.17 L52.70,304.77 L52.46,305.36 L52.24,305.94 L52.01,306.51 L51.79,307.06 L51.58,307.60 L51.37,308.13 L51.17,308.64 L50.97,309.15 L50.77,309.64 L50.58,310.13 L50.39,310.60 L50.21,311.07 L50.03,311.52 L49.86,311.97 L49.68,312.40 L49.52,312.83 L49.35,313.25 L49.19,313.65 L49.03,314.06 L48.65,315.02 L48.29,315.94 L47.95,316.82 L47.63,317.65 L47.31,318.45 L47.02,319.21 L46.74,319.93 L46.47,320.62 L46.21,321.28 L45.97,321.91 L45.73,322.51 L45.51,323.09 L45.29,323.65 L45.09,324.18 L44.89,324.69 L44.70,325.17 L44.52,325.64 L44.35,326.09 L44.18,326.53 L44.02,326.94 L43.87,327.34 L43.72,327.73 L43.58,328.10 L43.45,328.45 L43.31,328.80 L43.19,329.13 L43.07,329.45 L42.95,329.76 L42.83,330.06 L42.72,330.34 L42.62,330.62 L42.52,330.89 L42.42,331.15 L42.32,331.40 L42.23,331.65 L42.14,331.88 L42.06,332.11 L41.97,332.33 L41.89,332.54 L41.82,332.75 L41.74,332.95 L41.67,333.15 L41.60,333.34 L41.53,333.52 L41.46,333.70 L41.40,333.87 L41.33,334.04 L41.27,334.20 L41.21,334.36 L41.16,334.51 L41.10,334.66 L41.04,334.81 L40.99,334.95 L40.94,335.09 L40.89,335.22 L40.84,335.35 L40.80,335.48 L40.75,335.61 L40.70,335.73 L40.66,335.85 L40.62,335.96 L40.58,336.07 L40.54,336.18 L40.50,336.29 L40.46,336.39 L40.42,336.49 L40.38,336.59 L40.35,336.69 L40.31,336.78 L40.28,336.88 L40.25,336.97 L40.22,337.06 L40.18,337.14 L40.15,337.23 L40.12,337.31 L40.09,337.39 L40.06,337.47 L40.04,337.54 L40.01,337.62 L39.98,337.69 L39.96,337.77 L39.93,337.84 L39.91,337.91 L39.88,337.97 L39.76,338.29 L39.66,338.58 L39.57,338.84 L39.48,339.08 L39.40,339.30 L39.33,339.50 L39.27,339.68 L39.20,339.85 L39.15,340.01 L39.10,340.15 L39.05,340.29 L39.01,340.41 L38.96,340.53 L38.93,340.64 L38.89,340.74 L38.86,340.84 L38.82,340.93 L38.79,341.01 L38.77,341.09 L38.74,341.17 L38.72,341.24 L38.69,341.31 L38.67,341.38 L38.65,341.44 L38.63,341.49 L38.61,341.55 L38.59,341.60 L38.57,341.65 L38.56,341.70 L38.54,341.75 L38.53,341.79 L38.51,341.83 L38.50,341.88 L38.48,341.91 L38.47,341.95 L38.46,341.99 L38.45,342.02 L38.44,342.06 L38.42,342.09 L38.41,342.12 L38.40,342.15 L38.39,342.18 L38.39,342.21 L38.38,342.23 L38.37,342.26 L38.36,342.29 L38.35,342.31 L38.34,342.33 L38.34,342.36 L38.33,342.38 L38.32,342.40 L38.31,342.42 L38.31,342.44 L38.30,342.46 L38.29,342.48 L38.29,342.50 L38.28,342.52 L38.28,342.54 L38.27,342.56 L38.27,342.57 L38.26,342.59 L38.26,342.61 L38.25,342.62" fill="none" stroke="#ff0000" stroke-width="3.05" stroke-linejoin="bevel"/>
<circle cx="38.25" cy="343.75" r="61.07" fill="none" stroke="#a0a0a0" stroke-width="1.05"/>
<circle cx="38.25" cy="343.75" r="122.14" fill="none" stroke="#a0a0a0" stroke-width="1.05"/>
<circle cx="38.25" cy="343.75" r="183.21" fill="none" stroke="#a0a0a0" stroke-width="1.05"/>
<circle cx="38.25" cy="343.75" r="244.28" fill="none" stroke="#a0a0a0" stroke-width="1.05"/>
<line x1="38.25" y1="343.95" x2="343.60" y2="343.95" stroke="#a0a0a0" stroke-width="1.05"/>
<line x1="38.25" y1="343.75" x2="333.20" y2="264.72" stroke="#a0a0a0" stroke-width="1.05"/>
<line x1="38.25" y1="343.75" x2="302.69" y2="191.08" stroke="#a0a0a0" stroke-width="1.05"/>
<line x1="38.25" y1="343.75" x2="254.17" y2="127.83" stroke="#a0a0a0" stroke-width="1.05"/>
<line x1="38.25" y1="343.75" x2="190.93" y2="79.31" stroke="#a0a0a0" stroke-width="1.05"/>
<line x1="38.25" y1="343.75" x2="117.28" y2="48.80" stroke="#a0a0a0" stroke-width="1.05"/>
<line x1="38.05" y1="343.75" x2="38.05" y2="38.40" stroke="#a0a0a0" stroke-width="1.05"/>
<line x1="38.25" y1="343.75" x2="-40.78" y2="48.80" stroke="#a0a0a0" stroke-width="1.05"/>
<line x1="38.25" y1="343.75" x2="-114.42" y2="79.31" stroke="#a0a0a0" stroke-width="1.05"/>
<line x1="38.25" y1="343.75" x2="-177.67" y2="127.83" stroke="#a0a0a0" stroke-width="1.05"/>
<line x1="38.25" y1="343.75" x2="-226.19" y2="191.08" stroke="#a0a0a0" stroke-width="1.05"/>
<line x1="38.25" y1="343.75" x2="-256.70" y2="264.72" stroke="#a0a0a0" stroke-width="1.05"/>
<line x1="38.25" y1="343.95" x2="-267.10" y2="343.95" stroke="#a0a0a0" stroke-width="1.05"/>
<line x1="38.25" y1="343.75" x2="-256.70" y2="422.78" stroke="#a0a0a0" stroke-width="1.05"/>
<line x1="38.25" y1="343.75" x2="-226.19" y2="496.43" stroke="#a0a0a0" stroke-width="1.05"/>
<line x1="38.25" y1="343.75" x2="-177.67" y2="559.67" stroke="#a0a0a0" stroke-width="1.05"/>
<line x1="38.25" y1="343.75" x2="-114.43" y2="608.19" stroke="#a0a0a0" stroke-width="1.05"/>
<line x1="38.25" y1="343.75" x2="-40.78" y2="638.70" stroke="#a0a0a0" stroke-width="1.05"/>
<line x1="38.05" y1="343.75" x2="38.05" y2="649.10" stroke="#a0a0a0" stroke-width="1.05"/>
<line x1="38.25" y1="343.75" x2="117.28" y2="638.70" stroke="#a0a0a0" stroke-width="1.05"/>
<line x1="38.25" y1="343.75" x2="190.93" y2="608.19" stroke="#a0a0a0" stroke-width="1.05"/>
<line x1="38.25" y1="343.75" x2="254.17" y2="559.67" stroke="#a0a0a0" stroke-width="1.05"/>
<line x1="38.25" y1="343.75" x2="302.69" y2="496.43" stroke="#a0a0a0" stroke-width="1.05"/>
<line x1="38.25" y1="343.75" x2="333.20" y2="422.78" stroke="#a0a0a0" stroke-width="1.05"/>
<path d="M37.85,328.48 h1.80 M37.85,313.21 h1.80 M37.85,297.95 h1.80 M37.85,282.68 h2.40 M37.85,267.41 h1.80 M37.85,252.14 h1.80 M37.85,236.88 h1.80 M37.85,221.61 h2.40 M37.85,206.34 h1.80 M37.85,191.07 h1.80 M37.85,175.81 h1.80 M37.85,160.54 h2.40 M37.85,145.27 h1.80 M37.85,130.00 h1.80 M37.85,114.74 h1.80 M37.85,99.47 h2.40 M37.85,84.20 h1.80 M37.85,68.93 h1.80 M37.85,53.67 h1.80" stroke="#222" stroke-width="0.9" fill="none"/>
<circle cx="38.25" cy="343.75" r="305.35" fill="none" stroke="#1a1a1a" stroke-width="1.05"/>
<path d="M343.60,343.75 L347.00,343.75 M342.44,317.14 L344.23,316.98 M338.96,290.73 L340.73,290.41 M333.20,264.72 L336.48,263.84 M325.19,239.31 L326.88,238.70 M314.99,214.70 L316.62,213.94 M302.69,191.08 L305.64,189.38 M288.38,168.61 L289.85,167.58 M272.16,147.47 L273.54,146.32 M254.17,127.83 L256.57,125.43 M234.53,109.84 L235.68,108.46 M213.39,93.62 L214.42,92.15 M190.93,79.31 L192.63,76.36 M167.30,67.01 L168.06,65.38 M142.69,56.81 L143.30,55.12 M117.28,48.80 L118.16,45.52 M91.27,43.04 L91.59,41.27 M64.86,39.56 L65.02,37.77 M38.25,38.40 L38.25,35.00 M11.64,39.56 L11.48,37.77 M-14.77,43.04 L-15.09,41.27 M-40.78,48.80 L-41.66,45.52 M-66.19,56.81 L-66.80,55.12 M-90.80,67.01 L-91.56,65.38 M-114.42,79.31 L-116.12,76.36 M-136.89,93.62 L-137.92,92.15 M-158.03,109.84 L-159.18,108.46 M-177.67,127.83 L-180.07,125.43 M-195.66,147.47 L-197.04,146.32 M-211.88,168.61 L-213.35,167.58 M-226.19,191.08 L-229.14,189.38 M-238.49,214.70 L-240.12,213.94 M-248.69,239.31 L-250.38,238.70 M-256.70,264.72 L-259.98,263.84 M-262.46,290.73 L-264.23,290.41 M-265.94,317.14 L-267.73,316.98 M-267.10,343.75 L-270.50,343.75 M-265.94,370.36 L-267.73,370.52 M-262.46,396.77 L-264.23,397.09 M-256.70,422.78 L-259.98,423.66 M-248.69,448.19 L-250.38,448.80 M-238.49,472.80 L-240.12,473.56 M-226.19,496.43 L-229.14,498.12 M-211.88,518.89 L-213.35,519.92 M-195.66,540.03 L-197.04,541.18 M-177.67,559.67 L-180.07,562.07 M-158.03,577.66 L-159.18,579.04 M-136.89,593.88 L-137.92,595.35 M-114.43,608.19 L-116.13,611.14 M-90.80,620.49 L-91.56,622.12 M-66.19,630.69 L-66.80,632.38 M-40.78,638.70 L-41.66,641.98 M-14.77,644.46 L-15.09,646.23 M11.64,647.94 L11.48,649.73 M38.25,649.10 L38.25,652.50 M64.86,647.94 L65.02,649.73 M91.27,644.46 L91.59,646.23 M117.28,638.70 L118.16,641.98 M142.69,630.69 L143.30,632.38 M167.30,620.49 L168.06,622.12 M190.93,608.19 L192.63,611.14 M213.39,593.88 L214.42,595.35 M234.53,577.66 L235.68,579.04 M254.17,559.67 L256.57,562.07 M272.16,540.03 L273.54,541.18 M288.38,518.89 L289.85,519.92 M302.69,496.43 L305.64,498.13 M314.99,472.80 L316.62,473.56 M325.19,448.19 L326.88,448.80 M333.20,422.78 L336.48,423.66 M338.96,396.77 L340.73,397.09 M342.44,370.36 L344.23,370.52" stroke="#111" stroke-width="1.05" fill="none"/>
<text transform="translate(18.0,22.9) scale(1.0,1.03)">90</text>
<circle cx="52.95" cy="9.40" r="3.5" fill="none" stroke="#000" stroke-width="1.05"/>
<text transform="translate(104.3,34.3) scale(1.0,1.03)">75</text>
<circle cx="140.10" cy="20.40" r="3.5" fill="none" stroke="#000" stroke-width="1.05"/>
<text transform="translate(185.5,66.8) scale(1.0,1.03)">60</text>
<circle cx="220.70" cy="53.20" r="3.5" fill="none" stroke="#000" stroke-width="1.05"/>
<text transform="translate(255.0,118.3) scale(1.0,1.03)">45</text>
<circle cx="290.60" cy="104.50" r="3.5" fill="none" stroke="#000" stroke-width="1.05"/>
<text transform="translate(309.3,186.6) scale(1.0,1.03)">30</text>
<circle cx="344.20" cy="173.00" r="3.5" fill="none" stroke="#000" stroke-width="1.05"/>
<text transform="translate(343.1,266.0) scale(1.0,1.03)">15</text>
<circle cx="377.80" cy="252.80" r="3.5" fill="none" stroke="#000" stroke-width="1.05"/>
<text transform="translate(354,350.6) scale(1.0,1.03)">0</text>
<text transform="translate(51.2,45.2) scale(1.025,1.03)">1.</text>
<text transform="translate(50.3,106.5) scale(1.025,1.03)">0.8</text>
<text transform="translate(50.3,167.5) scale(1.025,1.03)">0.6</text>
<text transform="translate(50.3,228.5) scale(1.025,1.03)">0.4</text>
<text transform="translate(50.3,289.6) scale(1.025,1.03)">0.2</text>
<text transform="translate(50.3,350.6) scale(1.025,1.03)">0.</text>
</svg>
</body></html>
